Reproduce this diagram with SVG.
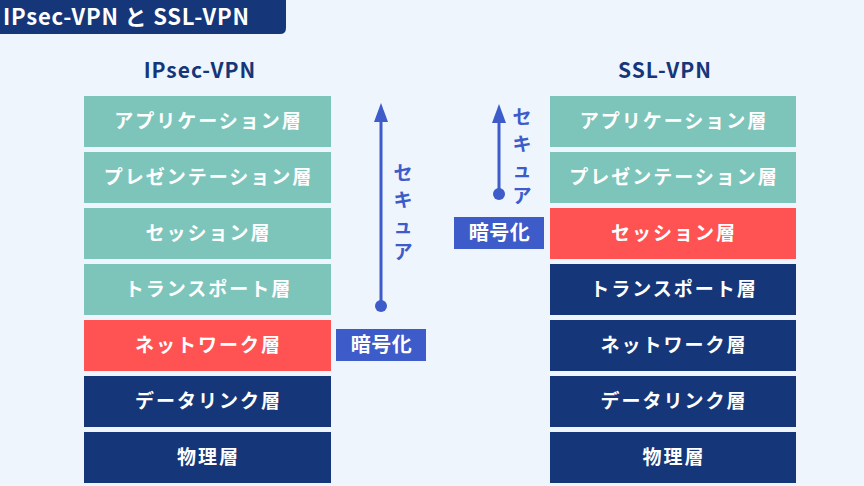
<svg xmlns="http://www.w3.org/2000/svg" width="864" height="486" viewBox="0 0 864 486">
<defs>
<style>
.t{font-family:"Noto Sans CJK JP","Noto Sans",sans-serif;font-weight:bold;}
.lbl{font-size:19px;fill:#fff;text-anchor:middle;letter-spacing:2px;}
.teal{fill:#7dc5bb;}
.red{fill:#ff5252;}
.navy{fill:#153679;}
.blue{fill:#3d5bc9;}
.hdr{font-size:21px;fill:#153679;text-anchor:middle;letter-spacing:1px;}
.sec{font-size:19px;fill:#3d5bc9;text-anchor:middle;}
.enc{font-size:20px;fill:#fff;text-anchor:middle;letter-spacing:0.5px;}
</style>
</defs>
<rect width="864" height="486" fill="#eef5fc"/>
<g id="title">
<path d="M-10 -10 H286 V28 Q286 34 280 34 H-10 Z" fill="#153679"/>
<text class="t" x="3" y="25" font-size="22" fill="#fff" letter-spacing="0.8">IPsec-VPN と SSL-VPN</text>
</g>
<g id="hdr-ipsec"><text class="t hdr" x="200" y="78">IPsec-VPN</text></g>
<g id="hdr-ssl"><text class="t hdr" x="665" y="78">SSL-VPN</text></g>

<g id="ipsec-app"><rect class="teal" x="84" y="96" width="247" height="51"/><text class="t lbl" x="208.5" y="128">アプリケーション層</text></g>
<g id="ipsec-pres"><rect class="teal" x="84" y="152" width="247" height="51"/><text class="t lbl" x="208.5" y="184">プレゼンテーション層</text></g>
<g id="ipsec-sess"><rect class="teal" x="84" y="208" width="247" height="51"/><text class="t lbl" x="208.5" y="240">セッション層</text></g>
<g id="ipsec-trans"><rect class="teal" x="84" y="264" width="247" height="51"/><text class="t lbl" x="208.5" y="296">トランスポート層</text></g>
<g id="ipsec-net"><rect class="red" x="84" y="320" width="247" height="51"/><text class="t lbl" x="208.5" y="352">ネットワーク層</text></g>
<g id="ipsec-dl"><rect class="navy" x="84" y="376" width="247" height="51"/><text class="t lbl" x="208.5" y="408">データリンク層</text></g>
<g id="ipsec-phy"><rect class="navy" x="84" y="432" width="247" height="51"/><text class="t lbl" x="208.5" y="464">物理層</text></g>

<g id="ssl-app"><rect class="teal" x="550" y="96" width="246" height="51"/><text class="t lbl" x="674" y="128">アプリケーション層</text></g>
<g id="ssl-pres"><rect class="teal" x="550" y="152" width="246" height="51"/><text class="t lbl" x="674" y="184">プレゼンテーション層</text></g>
<g id="ssl-sess"><rect class="red" x="550" y="208" width="246" height="51"/><text class="t lbl" x="674" y="240">セッション層</text></g>
<g id="ssl-trans"><rect class="navy" x="550" y="264" width="246" height="51"/><text class="t lbl" x="674" y="296">トランスポート層</text></g>
<g id="ssl-net"><rect class="navy" x="550" y="320" width="246" height="51"/><text class="t lbl" x="674" y="352">ネットワーク層</text></g>
<g id="ssl-dl"><rect class="navy" x="550" y="376" width="246" height="51"/><text class="t lbl" x="674" y="408">データリンク層</text></g>
<g id="ssl-phy"><rect class="navy" x="550" y="432" width="246" height="51"/><text class="t lbl" x="674" y="464">物理層</text></g>

<g id="enc-ipsec"><rect class="blue" x="336" y="329" width="90" height="32"/><text class="t enc" x="381.5" y="352">暗号化</text></g>
<g id="enc-ssl"><rect class="blue" x="454" y="217" width="90" height="32"/><text class="t enc" x="499.5" y="240">暗号化</text></g>

<g id="connectors">
<line x1="381" y1="306" x2="381" y2="120" stroke="#3d5bc9" stroke-width="3"/>
<polygon points="381,103 374,122 388,122" fill="#3d5bc9"/>
<circle cx="381" cy="306" r="6" fill="#3d5bc9"/>
<line x1="499" y1="194" x2="499" y2="120" stroke="#3d5bc9" stroke-width="3"/>
<polygon points="499,104 492,123 506,123" fill="#3d5bc9"/>
<circle cx="499" cy="194" r="6" fill="#3d5bc9"/>
</g>
<g id="secure-ipsec">
<text class="t sec" x="403" y="180">セ</text>
<text class="t sec" x="403" y="207">キ</text>
<text class="t sec" x="403" y="233">ュ</text>
<text class="t sec" x="403" y="259">ア</text>
</g>
<g id="secure-ssl">
<text class="t sec" x="522" y="124">セ</text>
<text class="t sec" x="522" y="151">キ</text>
<text class="t sec" x="522" y="177">ュ</text>
<text class="t sec" x="522" y="203">ア</text>
</g>
</svg>
